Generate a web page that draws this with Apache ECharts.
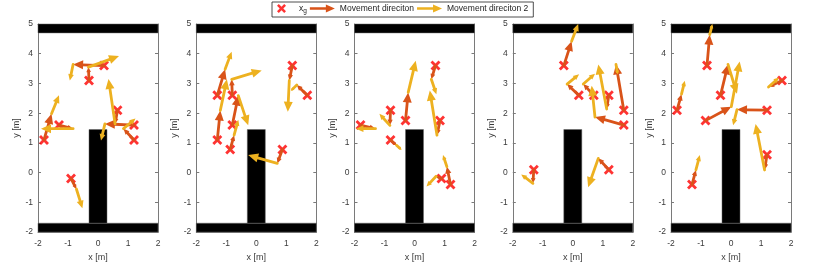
<!DOCTYPE html>
<html><head><meta charset="utf-8">
<script src="https://cdn.jsdelivr.net/npm/echarts@6/dist/echarts.min.js"></script>
<style>html,body{margin:0;padding:0;background:#fff}#c{width:830px;height:267px}</style>
</head><body><div id="c"></div><script>
// ---- tick values ----
const xTickValues = [-2, -1, 0, 1, 2];
const yTickValues = [-2, -1, 0, 1, 2, 3, 4, 5];

// ---- static obstacles (x1, y1, x2, y2) in metres ----
const obstacleTop = [-2, 4.7, 2, 5];
const obstacleBottom = [-2, -2, 2, -1.7];
const obstaclePillar = [-0.3, -1.7, 0.3, 1.45];

// ---- panel 1 ----
const goals1 = [[-1.8,1.1],[-1.3,1.6],[-0.3,3.1],[0.2,3.6],[0.65,2.1],[1.2,1.6],[1.2,1.1],[-0.9,-0.2]];
const dirA1  = [[-1.55,1.98],[-0.83,1.48],[-0.32,3.55],[-0.83,3.64],[0.57,1.64],[0.23,1.64],[0.85,1.48],[-0.72,-0.55]];
const dirB1  = [[-1.3,2.6],[-1.9,1.48],[0.7,3.92],[-0.94,3.1],[0.35,3.15],[0.1,1.08],[1.25,1.82],[-0.52,-1.2]];
// ---- panel 2 ----
const goals2 = [[-1.3,2.6],[-0.8,2.6],[-0.8,1.6],[-1.3,1.1],[-0.87,0.78],[1.2,3.6],[1.7,2.6],[0.87,0.78]];
const dirA2  = [[-1.04,3.48],[-0.82,3.14],[-0.6,2.59],[-1.2,2.09],[-0.74,1.26],[1.1,3.1],[1.35,2.95],[0.7,0.31]];
const dirB2  = [[-0.82,4.07],[0.18,3.44],[-0.27,1.59],[-0.98,3.14],[-0.6,1.78],[1.05,2.05],[1.15,2.75],[-0.27,0.59]];
// ---- panel 3 ----
const goals3 = [[-1.8,1.6],[-0.8,2.1],[-0.8,1.1],[-0.3,1.75],[0.7,3.6],[0.85,1.75],[0.9,-0.2],[1.2,-0.4]];
const dirA3  = [[-1.3,1.48],[-0.82,1.59],[-0.6,0.92],[-0.21,2.7],[0.56,3.14],[0.75,1.26],[0.72,-0.12],[1.08,0.2]];
const dirB3  = [[-1.95,1.48],[-1.17,1.98],[-0.43,0.76],[0.04,3.76],[0.73,2.64],[0.51,2.76],[0.4,-0.47],[0.95,0.59]];
// ---- panel 4 ----
const goals4 = [[-0.3,3.6],[0.2,2.6],[0.7,2.6],[1.2,2.6],[1.7,2.1],[1.7,1.6],[-1.3,0.1],[1.2,0.1]];
const dirA4  = [[-0.04,4.42],[-0.19,2.98],[0.35,2.98],[1.13,2.14],[1.44,3.64],[0.74,1.87],[-1.33,-0.36],[0.85,0.48]];
const dirB4  = [[0.18,5.0],[0.21,3.31],[0.74,3.33],[0.85,3.64],[1.5,3.3],[0.63,2.92],[-1.72,-0.06],[0.51,-0.49]];
// ---- panel 5 ----
const goals5 = [[-0.8,3.6],[-0.35,2.6],[-1.8,2.1],[-0.85,1.75],[1.2,2.1],[1.7,3.1],[1.2,0.6],[-1.3,-0.4]];
const dirA5  = [[-0.71,4.64],[-0.1,3.64],[-1.65,2.64],[0.01,2.22],[0.2,2.12],[1.25,2.88],[1.12,0.09],[-1.17,0.09]];
const dirB5  = [[-0.62,5.0],[0.2,2.65],[-1.54,3.09],[0.29,3.74],[0.07,1.59],[1.6,3.2],[0.82,1.64],[-1.04,0.59]];

const goalsAll = [goals1, goals2, goals3, goals4, goals5];
const dirAAll = [dirA1, dirA2, dirA3, dirA4, dirA5];
const dirBAll = [dirB1, dirB2, dirB3, dirB4, dirB5];
const obstacles = [obstacleTop, obstacleBottom, obstaclePillar];

const NAME_G = 'x_g', NAME_A = 'Movement direciton', NAME_B = 'Movement direciton 2';
const COL_G = '#FF0000', COL_A = '#D95319', COL_B = '#EDB120';
const AXC = '#7a7a7a', TXC = '#3a3a3a';
const FONT = 'Liberation Sans, Arial, Helvetica, sans-serif';
const XPATH = 'path://M2,0L5,3L8,0L10,2L7,5L10,8L8,10L5,7L2,10L0,8L3,5L0,2Z';
const ARROWPATH = 'path://M0,3.2L16,3.2L16,0.5L25,4.5L16,8.5L16,5.8L0,5.8Z';

function rectRender(params, api) {
  const p1 = api.coord([api.value(0), api.value(1)]);
  const p2 = api.coord([api.value(2), api.value(3)]);
  return { type: 'rect',
    shape: { x: Math.min(p1[0], p2[0]), y: Math.min(p1[1], p2[1]),
             width: Math.abs(p2[0] - p1[0]), height: Math.abs(p2[1] - p1[1]) },
    style: { fill: '#000', stroke: '#666', lineWidth: 0.5 } };
}
function arrowRender(color) {
  return function (params, api) {
    const p1 = api.coord([api.value(0), api.value(1)]);
    const p2 = api.coord([api.value(2), api.value(3)]);
    const dx = p2[0] - p1[0], dy = p2[1] - p1[1];
    const L = Math.sqrt(dx * dx + dy * dy) || 1;
    const ux = dx / L, uy = dy / L;
    const h = Math.min(10, Math.max(3.5, L * 0.38));
    const w = h * 0.45;
    const b = [p2[0] - ux * h, p2[1] - uy * h];
    return { type: 'group', children: [
      { type: 'line', shape: { x1: p1[0], y1: p1[1], x2: b[0] + ux, y2: b[1] + uy },
        style: { stroke: color, lineWidth: 2.8, lineCap: 'round' } },
      { type: 'polygon', shape: { points: [p2, [b[0] - uy * w, b[1] + ux * w], [b[0] + uy * w, b[1] - ux * w]] },
        style: { fill: color } }
    ] };
  };
}

const grids = [], xAxes = [], yAxes = [], series = [];
const lefts = [38, 196.3, 354.5, 512.8, 671];
for (let i = 0; i < 5; i++) {
  grids.push({ left: lefts[i], top: 24, width: 120, height: 210 });
  const common = { type: 'value', gridIndex: i, splitLine: { show: false },
    axisLine: { show: true, onZero: false, lineStyle: { color: AXC, width: 1 } },
    axisTick: { show: true, inside: true, length: 3, lineStyle: { color: AXC } } };
  xAxes.push(Object.assign({}, common, { position: 'bottom', min: xTickValues[0], max: xTickValues[xTickValues.length - 1], interval: 1,
    axisLabel: { color: TXC, fontSize: 8.5, fontFamily: FONT, margin: 7 },
    name: 'x [m]', nameLocation: 'middle', nameGap: 19, nameTextStyle: { color: TXC, fontSize: 9, fontFamily: FONT } }));
  xAxes.push(Object.assign({}, common, { position: 'top', min: xTickValues[0], max: xTickValues[xTickValues.length - 1], interval: 1,
    axisLabel: { show: false } }));
  yAxes.push(Object.assign({}, common, { position: 'left', min: yTickValues[0], max: yTickValues[yTickValues.length - 1], interval: 1,
    axisLabel: { color: TXC, fontSize: 8.5, fontFamily: FONT, margin: 5 },
    name: 'y [m]', nameLocation: 'middle', nameGap: 17, nameRotate: 90, nameTextStyle: { color: TXC, fontSize: 9, fontFamily: FONT } }));
  yAxes.push(Object.assign({}, common, { position: 'right', min: yTickValues[0], max: yTickValues[yTickValues.length - 1], interval: 1,
    axisLabel: { show: false } }));

  const xi = 2 * i, yi = 2 * i;
  series.push({ type: 'custom', name: 'obstacle', xAxisIndex: xi, yAxisIndex: yi, silent: true, z: 1,
    data: obstacles, encode: { x: [0, 2], y: [1, 3] }, renderItem: rectRender });
  series.push({ type: 'scatter', name: NAME_G, xAxisIndex: xi, yAxisIndex: yi, z: 2,
    data: goalsAll[i], symbol: XPATH, symbolSize: 10, itemStyle: { color: COL_G } });
  series.push({ type: 'custom', name: NAME_A, xAxisIndex: xi, yAxisIndex: yi, z: 3,
    itemStyle: { color: COL_A }, encode: { x: [0, 2], y: [1, 3] },
    data: goalsAll[i].map((g, k) => [g[0], g[1], dirAAll[i][k][0], dirAAll[i][k][1]]),
    renderItem: arrowRender(COL_A) });
  series.push({ type: 'custom', name: NAME_B, xAxisIndex: xi, yAxisIndex: yi, z: 4,
    itemStyle: { color: COL_B }, encode: { x: [0, 2], y: [1, 3] },
    data: dirAAll[i].map((a, k) => [a[0], a[1], dirBAll[i][k][0], dirBAll[i][k][1]]),
    renderItem: arrowRender(COL_B) });
}

const chart = echarts.init(document.getElementById('c'), null, { renderer: 'canvas' });
chart.setOption({
  animation: false,
  backgroundColor: '#fff',
  grid: grids, xAxis: xAxes, yAxis: yAxes, series: series,
  legend: {
    left: 272, top: 2, orient: 'horizontal',
    padding: [2, 5], itemGap: 3, itemWidth: 25, itemHeight: 9,
    borderColor: '#222', borderWidth: 0.8, backgroundColor: '#fff',
    selectedMode: false,
    data: [ { name: NAME_G, icon: XPATH }, { name: NAME_A, icon: ARROWPATH }, { name: NAME_B, icon: ARROWPATH } ],
    formatter: function (name) { return name === NAME_G ? '{x|x}{g|g}' : name; },
    textStyle: { color: '#222', fontSize: 8.5, fontFamily: FONT,
      rich: { x: { fontSize: 8.5, fontFamily: FONT, color: '#222' },
              g: { fontSize: 6.5, fontFamily: FONT, color: '#222', padding: [6, 15, 0, 0] } } }
  }
});
</script></body></html>
